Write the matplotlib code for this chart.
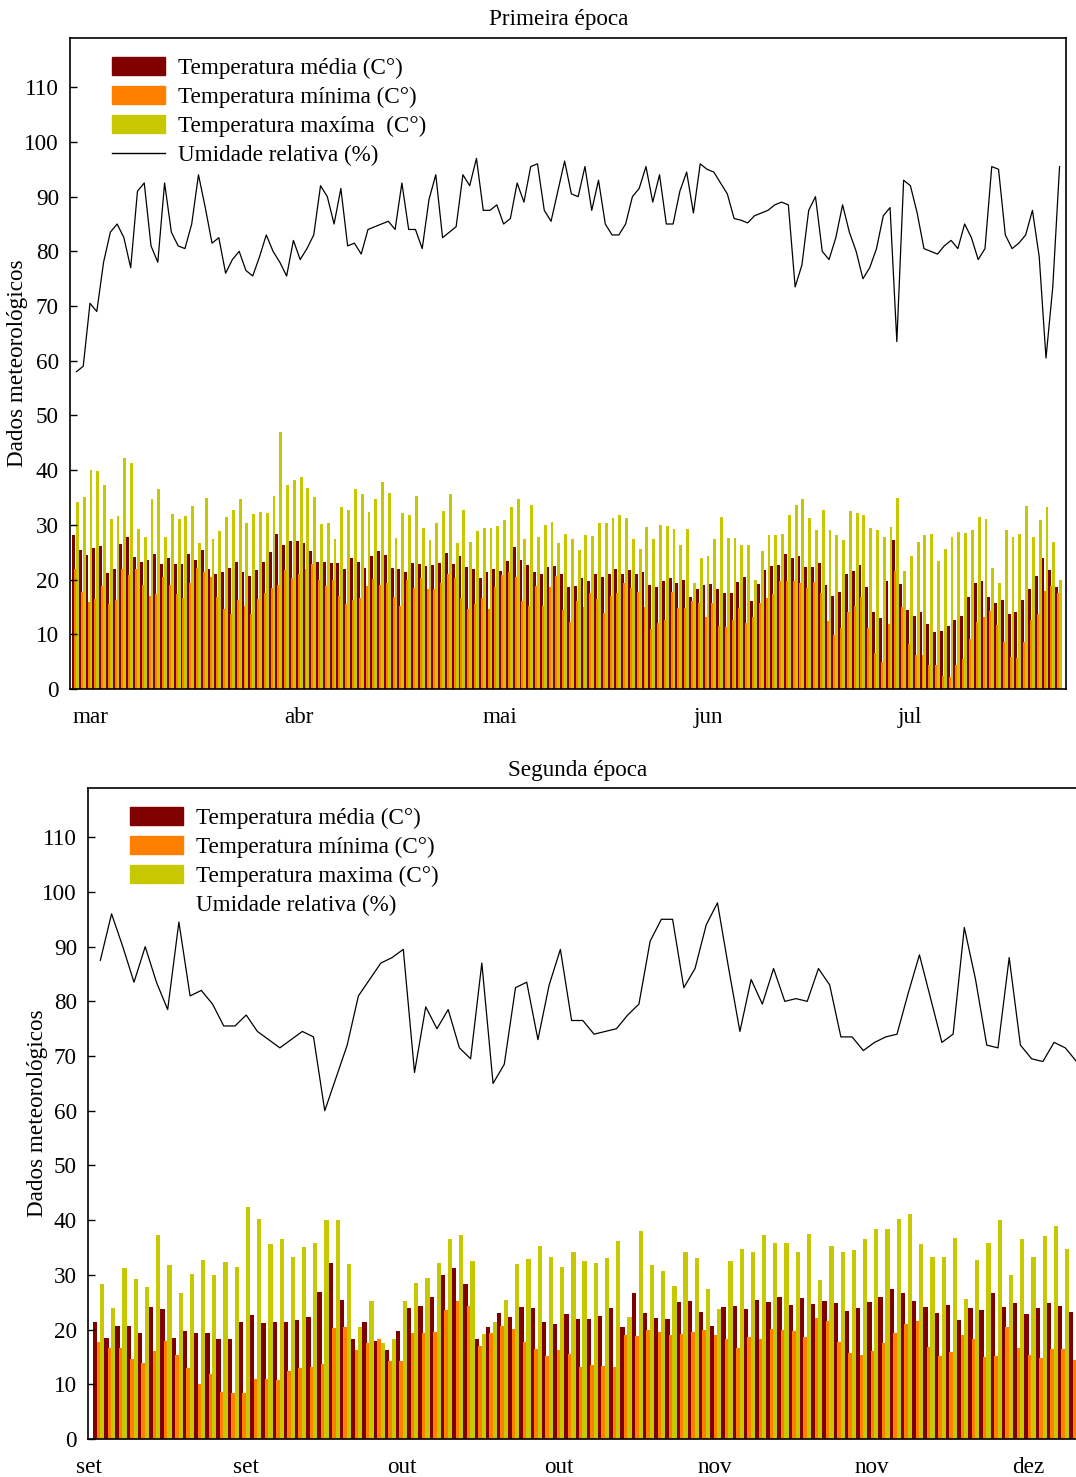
import matplotlib
matplotlib.use('Agg')
import matplotlib.pyplot as plt
import numpy as np
from matplotlib.patches import Patch
from matplotlib.lines import Line2D

plt.rcParams['font.family'] = ['Liberation Serif', 'DejaVu Serif']
FS = 16.7

# --- Primeira época (mar a jul) ---
ep1_media = [
    28.1, 25.5, 24.5, 25.7, 26.1, 21.2, 22.0, 26.5, 27.7, 24.1, 23.3, 23.6, 24.6, 22.8, 24.0, 22.8,
    22.9, 24.6, 23.6, 25.4, 21.9, 21.0, 21.4, 22.1, 23.3, 21.4, 20.7, 21.7, 23.3, 25.0, 28.4, 26.3, 27.0,
    27.0, 26.7, 25.3, 23.3, 23.3, 23.1, 23.0, 22.0, 23.9, 23.3, 22.2, 24.3, 25.2, 24.5, 22.2, 22.0,
    21.4, 23.0, 22.8, 22.5, 22.7, 23.0, 24.8, 22.8, 24.3, 22.3, 21.9, 20.3, 21.4, 22.0, 21.5, 23.4,
    25.9, 23.6, 22.7, 21.3, 21.1, 22.3,
    22.5, 21.1, 18.7, 18.8, 20.2, 19.8, 21.0, 20.4, 21.1, 21.9, 21.1, 21.7, 21.1, 21.4, 19.0, 18.6,
    19.7, 20.2, 19.3, 19.9, 16.9, 18.2, 19.0, 19.2, 18.3, 17.6, 17.5, 19.5, 20.5, 16.0, 19.2, 21.8,
    22.5, 22.7, 24.6, 24.0,
    24.3, 22.3, 22.3, 23.1, 19.1, 17.0, 17.8, 21.0, 21.6, 22.6, 18.7, 14.1, 13.0, 19.7, 27.2, 19.2,
    14.4, 13.4, 14.0, 11.9, 10.4, 10.6, 11.5, 12.6, 13.3, 16.8, 19.3, 19.7, 16.9, 15.7, 16.3, 13.7,
    14.1, 16.3, 18.3, 20.6, 24.0, 21.7, 18.7]
ep1_minima = [
    21.9, 17.8, 15.9, 16.4, 18.9, 15.5, 16.3, 22.0, 20.8, 22.0, 19.1, 17.0, 17.4, 20.5, 19.0, 17.4,
    16.7, 19.4, 22.2, 21.4, 20.5, 16.9, 14.7, 13.8, 16.3, 15.2, 13.8, 16.4, 17.6, 18.4, 19.1, 21.7, 20.3,
    21.1, 21.9, 22.9, 20.0, 18.9, 20.0, 17.0, 15.6, 16.2, 16.6, 18.8, 20.1, 19.1, 19.3, 16.9, 15.2,
    20.0, 18.5, 20.2, 18.3, 18.3, 19.3, 21.1, 20.2, 16.7, 14.6, 15.6, 16.6, 14.6, 18.7, 20.8, 21.3,
    20.5, 16.1, 15.2, 18.8,
    15.2, 18.7, 20.7, 14.4, 12.3, 16.0, 15.0, 17.5, 16.4, 13.9, 17.0, 17.5, 19.3, 18.5, 17.8, 14.9,
    11.0, 12.0, 12.6, 17.8, 14.8, 14.8, 16.0, 15.8, 13.2, 15.7, 11.5, 11.3, 12.7, 14.8, 12.1, 13.2,
    15.7, 16.6, 17.3, 19.7, 19.7,
    19.7, 19.3, 18.4, 19.5, 17.5, 12.4, 9.9, 11.2, 14.1, 15.2, 16.8, 11.2, 6.5, 4.9, 11.9, 21.6,
    15.0, 8.2, 6.2, 6.2, 4.3, 4.4, 2.4, 2.2, 4.3, 5.4, 9.1, 12.3, 13.2, 14.3, 11.7, 8.6, 5.9, 5.6,
    8.6, 12.6, 13.7, 18.0, 18.9, 17.5]
ep1_maxima = [
    34.2, 35.1, 40.0, 39.8, 37.2, 31.1, 31.7, 42.3, 41.4, 29.2, 27.8, 34.7, 36.5, 27.8, 31.9, 31.1,
    31.6, 33.5, 26.7, 35.0, 27.5, 28.9, 31.4, 32.8, 34.8, 30.3, 31.9, 32.3, 32.1, 35.3, 47.0, 37.2, 38.2,
    38.7, 36.7, 35.1, 30.1, 30.3, 27.4, 33.2, 32.7, 36.5, 35.6, 32.3, 34.7, 37.9, 35.8, 27.6, 32.2,
    31.8, 35.2, 29.5, 27.2, 30.3, 32.5, 35.6, 26.6, 32.8, 26.9, 28.9, 29.5, 29.5, 29.8, 30.9, 33.3,
    34.7, 27.5, 33.6, 27.8, 30.0, 30.5,
    26.6, 28.4, 27.4, 25.5, 28.1, 27.9, 30.4, 30.3, 31.2, 31.8, 31.2, 27.5, 25.6, 29.7, 27.5, 30.0,
    29.8, 29.3, 26.4, 29.3, 19.3, 23.9, 24.3, 27.4, 31.5, 27.6, 27.6, 26.3, 26.4, 19.9, 25.2, 28.1,
    28.1, 28.3, 31.8, 33.6,
    34.8, 31.2, 29.1, 32.8, 29.1, 28.1, 27.2, 32.6, 32.1, 31.8, 29.4, 29.1, 27.8, 29.7, 35.0, 21.6,
    24.3, 26.9, 28.1, 28.4, 23.4, 25.6, 27.8, 28.7, 28.6, 29.1, 31.5, 31.1, 22.2, 19.3, 29.1, 27.8,
    28.3, 33.4, 27.7, 30.9, 33.2, 26.9, 20.0]
ep1_umidade = [
    58.0, 59.0, 70.5, 69.0, 78.0, 83.5, 85.0, 82.5, 77.0, 91.0, 92.5, 81.0, 78.0, 92.5, 83.5, 81.0,
    80.5, 85.0, 94.0, 88.0, 81.5, 82.5, 76.0, 78.5, 80.0, 76.5, 75.5, 79.0, 83.0, 80.0, 78.0, 75.5,
    82.0, 78.5, 80.5, 83.0, 92.0, 90.0, 85.0, 91.5, 81.0, 81.5, 79.5, 84.0, 84.5, 85.0, 85.5, 84.0,
    92.5, 84.0, 84.0, 80.5, 89.5, 94.0, 82.5, 83.5, 84.5, 94.0, 92.0, 97.0, 87.5, 87.5, 88.5, 85.0,
    86.0, 92.5, 89.0, 95.5, 96.0, 87.5, 85.5, 91.0, 96.5, 90.5, 90.0, 95.5, 87.5, 93.0, 85.0, 83.0,
    83.0, 85.0, 90.0, 91.5, 95.5, 89.0, 94.0, 85.0, 85.0, 91.0, 94.5, 87.0, 96.0, 95.0, 94.5, 92.5,
    90.5, 86.0, 85.7, 85.2, 86.5, 87.0, 87.5, 88.5, 89.0, 88.5, 73.5, 77.5, 87.5, 90.0, 80.0, 78.5,
    82.5, 88.5, 83.5, 80.0, 75.0, 77.0, 80.5, 86.5, 88.0, 63.5, 93.0, 92.0, 87.0, 80.5, 80.0, 79.5,
    81.0, 82.0, 80.5, 85.0, 82.5, 78.5, 80.5, 95.5, 95.0, 83.0, 80.5, 81.5, 83.0, 87.5, 79.0, 60.5,
    73.5, 95.5]
ep1_meses = ['mar', 'abr', 'mai', 'jun', 'jul']

# --- Segunda época (set a dez) ---
ep2_media = [
    21.4, 18.4, 20.7, 20.7, 19.4, 24.1, 23.8, 18.4, 19.7, 19.3, 19.3, 18.3, 18.2, 21.3, 22.6, 21.2,
    21.3, 21.3, 21.7, 22.3, 26.8, 32.1,
    25.4, 18.3, 21.3, 17.9, 16.3, 19.7, 24.0, 24.4, 25.9, 30.0, 31.2, 28.4, 18.2, 20.4, 23.0, 22.3,
    24.1, 23.9, 21.4, 21.0, 22.8, 21.9,
    22.0, 22.5, 23.9, 20.5, 26.6, 23.1, 22.2, 21.9, 25.1, 25.2, 23.3, 20.7, 24.2, 24.4, 23.8, 25.4,
    25.0, 25.9, 24.5, 25.7, 24.7, 25.3, 24.8,
    23.4, 23.9, 25.1, 26.0, 27.5, 26.6, 25.2, 24.2, 23.0, 24.5, 21.7, 24.0, 23.6, 26.6, 24.2, 24.8,
    22.8, 23.9, 24.8, 24.3, 23.3]
ep2_minima = [
    17.7, 16.7, 16.7, 14.7, 13.9, 16.1, 17.9, 15.4, 12.9, 10.1, 11.8, 8.6, 8.4, 8.4, 11.0, 11.0,
    10.8, 12.4, 12.9, 13.2, 13.8, 20.3,
    20.5, 16.3, 17.5, 18.3, 14.3, 14.3, 19.3, 19.3, 19.6, 23.6, 25.3, 24.4, 17.0, 19.3, 20.7, 20.1,
    17.7, 16.4, 15.2, 16.3, 15.5, 13.2,
    13.5, 13.4, 13.2, 19.0, 18.9, 19.9, 19.6, 19.0, 19.2, 19.6, 20.0, 19.0, 18.3, 16.7, 18.6, 18.3,
    20.1, 20.0, 19.7, 18.7, 22.2, 21.6, 17.7,
    15.8, 15.3, 16.1, 17.5, 19.4, 21.1, 21.6, 16.9, 15.2, 15.9, 19.1, 18.3, 15.0, 15.2, 20.4, 16.7,
    15.4, 14.8, 16.5, 16.4, 14.4]
ep2_maxima = [
    28.3, 24.0, 31.2, 29.2, 27.8, 37.3, 31.8, 26.7, 30.1, 32.8, 30.0, 32.3, 31.5, 42.4, 40.2, 35.6,
    36.5, 33.3, 35.1, 35.9, 40.1, 40.1,
    31.9, 20.4, 25.3, 17.6, 18.3, 25.3, 28.6, 29.5, 32.2, 36.5, 37.2, 32.5, 19.2, 21.4, 25.4, 31.9,
    32.9, 35.3, 33.2, 31.5, 34.1, 32.6,
    32.2, 33.0, 36.2, 22.3, 38.0, 31.8, 30.7, 28.0, 34.1, 33.0, 27.4, 23.8, 32.6, 34.7, 34.2, 37.3,
    35.8, 35.9, 34.2, 37.5, 29.1, 35.3, 34.2,
    34.5, 36.5, 38.4, 38.4, 40.3, 41.2, 35.6, 33.2, 33.3, 36.8, 25.6, 32.7, 35.9, 40.1, 29.9, 36.5,
    33.3, 37.1, 38.9, 34.8, 35.4]
ep2_umidade = [
    87.5, 96.0, 90.0, 83.5, 90.0, 83.5, 78.5, 94.5, 81.0, 82.0, 79.5, 75.5, 75.5, 77.5, 74.5, 73.0,
    71.5, 73.0, 74.5, 73.5, 60.0, 66.0, 72.0, 81.0, 84.0, 87.0, 88.0, 89.5, 67.0, 79.0, 75.0, 78.5,
    71.5, 69.5, 87.0, 65.0, 68.5, 82.5, 83.5, 73.0, 83.0, 89.5, 76.5, 76.5, 74.0, 74.5, 75.0, 77.5,
    79.5, 91.0, 95.0, 95.0, 82.5, 86.0, 94.0, 98.0, 86.0, 74.5, 84.0, 79.5, 86.0, 80.0, 80.5, 80.0,
    86.0, 83.0, 73.5, 73.5, 71.0, 72.5, 73.5, 74.0, 81.5, 88.5, 80.5, 72.5, 74.0, 93.5, 84.0, 72.0,
    71.5, 88.0, 72.0, 69.5, 69.0, 72.5, 71.5, 69.0]
ep2_meses = ['set', 'set', 'out', 'out', 'nov', 'nov', 'dez']

COR_MEDIA = '#800000'
COR_MINIMA = '#ff8000'
COR_MAXIMA = '#c8c800'

W, H = 1076, 1477


def caixa(x0, y0, x1, y1):
    # caixa em pixels -> fracao da figura
    return [x0 / W, 1 - y1 / H, (x1 - x0) / W, (y1 - y0) / H]


def painel(fig, ax, media, minima, maxima, umidade, meses, pos_meses, xlim,
           leg_xy, rotulo_max, linha_legenda, larg, passo):
    x = np.arange(len(media))
    ax.bar(x, media, width=larg, align='edge', color=COR_MEDIA, linewidth=0)
    ax.bar(x + passo, minima, width=larg, align='edge', color=COR_MINIMA, linewidth=0)
    ax.bar(x + 2 * passo, maxima, width=larg, align='edge', color=COR_MAXIMA, linewidth=0)
    ax.plot(x + 0.65, umidade, color='black', lw=0.9)

    ax.set_xlim(*xlim)
    ax.set_ylim(0, 119)
    ax.set_yticks(np.arange(0, 111, 10))
    ax.set_xticks(pos_meses)
    ax.set_xticklabels(meses)
    ax.tick_params(axis='y', direction='in', length=5, width=1, pad=8, labelsize=FS)
    ax.tick_params(axis='x', length=0, pad=13, labelsize=FS)
    for s in ax.spines.values():
        s.set_linewidth(1.2)

    handles = [Patch(color=COR_MEDIA), Patch(color=COR_MINIMA), Patch(color=COR_MAXIMA),
               Line2D([], [], color='black' if linha_legenda else 'none', lw=1.0)]
    labels = ['Temperatura média (C°)', 'Temperatura mínima (C°)', rotulo_max,
              'Umidade relativa (%)']
    ax.legend(handles, labels, loc='upper left',
              bbox_to_anchor=(leg_xy[0] / W, 1 - leg_xy[1] / H),
              bbox_transform=fig.transFigure, frameon=False, borderpad=0,
              borderaxespad=0, handlelength=2.3, handleheight=0.8,
              handletextpad=0.55, labelspacing=0.31, fontsize=FS)


fig = plt.figure(figsize=(W / 100, H / 100), dpi=100)

ax1 = fig.add_axes(caixa(70, 38, 1066, 689))
painel(fig, ax1, ep1_media, ep1_minima, ep1_maxima, ep1_umidade, ep1_meses,
       [2.65, 33.5, 63.1, 93.8, 123.6], (-0.3, 146.6), (112, 57),
       'Temperatura maxíma  (C°)', True, 0.42, 0.29)
fig.text(559 / W, 1 - 20 / H, 'Primeira época', ha='center', va='center', fontsize=FS)
fig.text(18 / W, 1 - 363 / H, 'Dados meteorológicos', rotation=90,
         ha='center', va='center', fontsize=FS)

ax2 = fig.add_axes(caixa(88, 788, 1080, 1439))
painel(fig, ax2, ep2_media, ep2_minima, ep2_maxima, ep2_umidade, ep2_meses,
       [-0.36 + 13.95 * k for k in range(7)], (-0.45, 87.96), (130, 807),
       'Temperatura maxima (C°)', False, 0.38, 0.31)
fig.text(578 / W, 1 - 770 / H, 'Segunda época', ha='center', va='center', fontsize=FS)
fig.text(38 / W, 1 - 1113 / H, 'Dados meteorológicos', rotation=90,
         ha='center', va='center', fontsize=FS)

fig.savefig('out.png', dpi=100)
